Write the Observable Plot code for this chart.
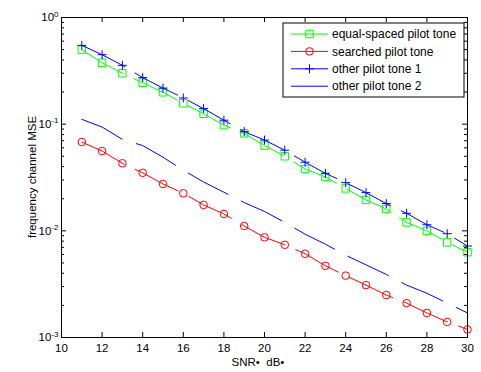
<!DOCTYPE html>
<html>
<head>
<meta charset="utf-8">
<script src="https://cdn.jsdelivr.net/npm/d3@7"></script>
<script src="https://cdn.jsdelivr.net/npm/@observablehq/plot@0.6"></script>
<style>
  html, body { margin: 0; padding: 0; background: #fff; }
</style>
</head>
<body>
<div id="chart"></div>
<script>
// ---- data ----
const snr = [11,12,13,14,15,16,17,18,19,20,21,22,23,24,25,26,27,28,29,30];
const equalSpaced = [0.499,0.377,0.300,0.245,0.199,0.157,0.125,0.098,0.082,0.063,0.050,0.038,0.032,0.025,0.0195,0.016,0.012,0.010,0.0078,0.0063];
const searched = [0.068,0.056,0.043,0.035,0.0275,0.0225,0.0175,0.0144,0.0111,0.0087,0.0074,0.0061,0.0047,0.0038,0.0031,0.0025,0.0021,0.0017,0.0014,0.00119];
const other1 = [0.548,0.448,0.356,0.273,0.218,0.176,0.140,0.109,0.085,0.071,0.057,0.044,0.0346,0.0283,0.0228,0.018,0.0146,0.0114,0.0094,0.0072];
const other2 = [0.111,0.094,0.072,0.063,0.049,0.037,0.0287,0.023,0.0184,0.0152,0.012,0.0093,0.0075,0.0059,0.0048,0.0039,0.0031,0.0026,0.0021,0.0017];
const seriesNames = ["equal-spaced pilot tone","searched pilot tone","other pilot tone 1","other pilot tone 2"];
const seriesColors = ["#00ff00","#ff0000","#0000ff","#0000ff"];
const xTicks = [10,12,14,16,18,20,22,24,26,28,30];
const yMajor = [0.001,0.01,0.1,1];
const yMinor = [0.002,0.003,0.004,0.005,0.006,0.007,0.008,0.009,
                0.02,0.03,0.04,0.05,0.06,0.07,0.08,0.09,
                0.2,0.3,0.4,0.5,0.6,0.7,0.8,0.9];
const xLabel = "SNR\u2022  dB\u2022";
const yLabel = "frequency channel MSE";

// ---- layout ----
const W = 481, H = 372;
const mT = 17, mR = 14, mB = 35, mL = 61;
const iW = W - mL - mR, iH = H - mT - mB;

const rows = (vals) => snr.map((x, i) => ({x, y: vals[i]}));
const plusSymbol = {
  draw(ctx, size) {
    const r = Math.sqrt(size / Math.PI);
    ctx.moveTo(-r, 0); ctx.lineTo(r, 0);
    ctx.moveTo(0, -r); ctx.lineTo(0, r);
  }
};
const dash = "48,12";

const chart = Plot.plot({
  width: W, height: H,
  marginTop: mT, marginRight: mR, marginBottom: mB, marginLeft: mL,
  style: {fontFamily: "'Liberation Sans', Arial, Helvetica, sans-serif", fontSize: "11.5px", background: "#fff", color: "#000"},
  x: {domain: [10, 30]},
  y: {type: "log", domain: [0.001, 1]},
  marks: [
    // data
    Plot.line(rows(equalSpaced), {x: "x", y: "y", stroke: seriesColors[0], strokeWidth: 1, strokeDasharray: dash}),
    Plot.dot(rows(equalSpaced), {x: "x", y: "y", symbol: "square", r: 4.2, stroke: seriesColors[0], fill: "none", strokeWidth: 1}),
    Plot.line(rows(searched), {x: "x", y: "y", stroke: seriesColors[1], strokeWidth: 1, strokeDasharray: dash}),
    Plot.dot(rows(searched), {x: "x", y: "y", symbol: "circle", r: 3.8, stroke: seriesColors[1], fill: "none", strokeWidth: 1}),
    Plot.line(rows(other1), {x: "x", y: "y", stroke: seriesColors[2], strokeWidth: 1, strokeDasharray: dash}),
    Plot.dot(rows(other1), {x: "x", y: "y", symbol: plusSymbol, r: 4.5, stroke: seriesColors[2], fill: "none", strokeWidth: 1}),
    Plot.line(rows(other2), {x: "x", y: "y", stroke: seriesColors[3], strokeWidth: 1, strokeDasharray: "45,15"}),
    // axes
    Plot.frame({stroke: "#000", strokeWidth: 1}),
    Plot.axisX({ticks: xTicks, tickSize: 0, tickPadding: 6, label: null}),
    Plot.axisY({ticks: yMajor, tickSize: 0, tickPadding: 3, label: null,
                tickFormat: d => "10^" + Math.round(Math.log10(d))}),
    // inward ticks
    Plot.ruleX(xTicks, {x: d => d, insetTop: iH - 5, stroke: "#000"}),
    Plot.ruleX(xTicks, {x: d => d, insetBottom: iH - 5, stroke: "#000"}),
    Plot.ruleY(yMajor, {y: d => d, insetRight: iW - 5, stroke: "#000"}),
    Plot.ruleY(yMajor, {y: d => d, insetLeft: iW - 5, stroke: "#000"}),
    Plot.ruleY(yMinor, {y: d => d, insetRight: iW - 3, stroke: "#000"}),
    Plot.ruleY(yMinor, {y: d => d, insetLeft: iW - 3, stroke: "#000"})
  ]
});

document.getElementById("chart").appendChild(chart);

const svg = d3.select(chart);
// superscript exponents on y tick labels
svg.selectAll('g[aria-label="y-axis tick label"] text').each(function() {
  const t = d3.select(this);
  const s = t.text();
  const parts = s.split("^");
  if (parts.length === 2) {
    t.text(parts[0]);
    t.append("tspan").attr("dy", "-0.55em").attr("font-size", "8px").text(parts[1]);
  }
});

// axis labels
const font = "'Liberation Sans', Arial, Helvetica, sans-serif";
svg.append("text")
  .attr("x", mL + iW / 2 - 6).attr("y", H - 6)
  .attr("text-anchor", "middle").attr("font-family", font).attr("font-size", "11.5px")
  .text(xLabel);
svg.append("text")
  .attr("transform", `translate(${33},${mT + iH / 2}) rotate(-90)`)
  .attr("text-anchor", "middle").attr("dominant-baseline", "middle")
  .attr("font-family", font).attr("font-size", "11.5px")
  .text(yLabel);

// legend
const lg = svg.append("g").attr("font-family", font).attr("font-size", "12px").attr("text-anchor", "start");
const lx = 283, ly = 23, lw = 181, lh = 74;
lg.append("rect").attr("x", lx).attr("y", ly).attr("width", lw).attr("height", lh)
  .attr("fill", "#fff").attr("stroke", "#000").attr("stroke-width", 1);
const symbols = [d3.symbolSquare, d3.symbolCircle, plusSymbol, null];
const radii = [4.2, 3.8, 4.5, 0];
seriesNames.forEach((name, i) => {
  const cy = ly + 11 + i * 17.4;
  lg.append("line").attr("x1", lx + 8).attr("x2", lx + 45).attr("y1", cy).attr("y2", cy)
    .attr("stroke", seriesColors[i]).attr("stroke-width", 1);
  if (symbols[i]) {
    lg.append("path")
      .attr("transform", `translate(${lx + 26.5},${cy})`)
      .attr("d", d3.symbol(symbols[i], Math.PI * radii[i] * radii[i])())
      .attr("fill", "none").attr("stroke", seriesColors[i]).attr("stroke-width", 1);
  }
  lg.append("text").attr("x", lx + 49).attr("y", cy).attr("dy", "0.35em")
    .attr("text-anchor", "start").text(name);
});
</script>
</body>
</html>
